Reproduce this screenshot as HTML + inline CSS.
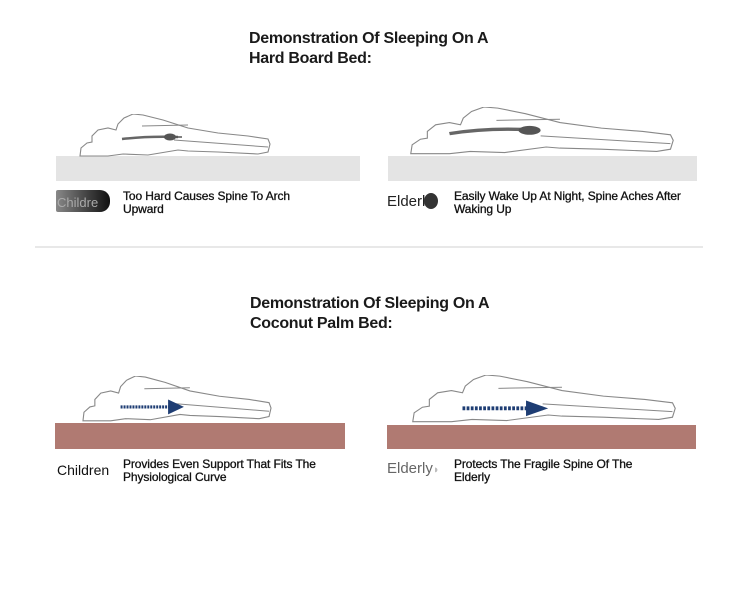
<!DOCTYPE html>
<html><head><meta charset="utf-8"><style>
body{margin:0;width:750px;height:604px;background:#fff;position:relative;overflow:hidden;font-family:"Liberation Sans",Arial,sans-serif;color:#111}
.t{position:absolute;font-size:16px;line-height:20px;font-weight:bold;letter-spacing:-0.3px;color:#1a1a1a}
.s{position:absolute;font-size:12px;line-height:13px;-webkit-text-stroke:0.3px #111;letter-spacing:-0.1px}
.bar{position:absolute}
</style></head><body>
<svg width="0" height="0" style="position:absolute">
<defs>
<g id="fig">
<path d="M2,42 L3,34 L9,29 L14,28 L14,22 L20,16 L30,14 L38,16 L40,10 L46,4 L55,0 L65,1 L85,6 L110,14 L140,19 L170,22 L190,25 L192,30 L190,38 L180,40 L140,38 L110,37 L100,36 L70,41 L45,40 L30,42 Z" fill="#fff" stroke="#888" stroke-width="1.1" vector-effect="non-scaling-stroke"/>
<path d="M64,12 L110,11 M96,26 L190,33" fill="none" stroke="#888" stroke-width="1" vector-effect="non-scaling-stroke"/>
</g>
</defs>
</svg>

<div class="t" style="left:249px;top:29px">Demonstration Of Sleeping On A<br>Hard Board Bed:</div>

<div class="bar" style="left:56px;top:156px;width:304px;height:25px;background:#e4e4e4"></div>
<div class="bar" style="left:388px;top:156px;width:309px;height:25px;background:#e4e4e4"></div>

<svg style="position:absolute;left:78px;top:114px" width="194" height="45" viewBox="0 0 194 45">
<use href="#fig"/>
<path d="M44,25 Q70,22 100,23" stroke="#666" stroke-width="2.5" fill="none"/>
<ellipse cx="92" cy="23" rx="6" ry="3.5" fill="#555"/>
<path d="M98,23 L104,23" stroke="#555" stroke-width="1.5"/>
</svg>
<svg style="position:absolute;left:408px;top:107px" width="268" height="50" viewBox="0 0 194 45" preserveAspectRatio="none">
<use href="#fig"/>
<path d="M30,24 Q60,18 95,21" stroke="#666" stroke-width="3" fill="none"/>
<ellipse cx="88" cy="21" rx="8" ry="4" fill="#555"/>
</svg>

<div style="position:absolute;left:56px;top:190px;width:54px;height:22px;background:linear-gradient(90deg,#888,#333 70%,#111);border-radius:2px 10px 10px 2px"></div>
<div style="position:absolute;left:57px;top:195px;font-size:13px;color:#aaa">Childre</div>
<div class="s" style="left:123px;top:190px">Too Hard Causes Spine To Arch<br>Upward</div>
<div style="position:absolute;left:387px;top:193px;font-size:15px;color:#222">Elderl<span style="display:inline-block;width:14px;height:16px;background:#333;border-radius:50%;vertical-align:-3px;margin-left:-1px"></span></div>
<div class="s" style="left:454px;top:190px">Easily Wake Up At Night, Spine Aches After<br>Waking Up</div>

<div style="position:absolute;left:35px;top:246px;width:668px;height:2px;background:#e8e8e8"></div>

<div class="t" style="left:250px;top:294px">Demonstration Of Sleeping On A<br>Coconut Palm Bed:</div>

<div class="bar" style="left:55px;top:423px;width:290px;height:26px;background:#b07a72"></div>
<div class="bar" style="left:387px;top:425px;width:309px;height:24px;background:#b07a72"></div>

<svg style="position:absolute;left:81px;top:376px" width="192" height="48" viewBox="0 0 194 45" preserveAspectRatio="none">
<use href="#fig"/>
<path d="M40,29 L100,29" stroke="#1e3d73" stroke-width="3" fill="none" stroke-dasharray="2 1"/>
<path d="M88,22 L104,29 L88,36 Z" fill="#1e3d73"/>
</svg>
<svg style="position:absolute;left:410px;top:375px" width="268" height="50" viewBox="0 0 194 45" preserveAspectRatio="none">
<use href="#fig"/>
<path d="M38,30 L96,30" stroke="#1e3d73" stroke-width="3.5" fill="none" stroke-dasharray="2 1"/>
<path d="M84,23 L100,30 L84,37 Z" fill="#1e3d73"/>
</svg>

<div style="position:absolute;left:57px;top:462px;font-size:14px;color:#111">Children</div>
<div class="s" style="left:123px;top:458px">Provides Even Support That Fits The<br>Physiological Curve</div>
<div style="position:absolute;left:387px;top:460px;font-size:15px;color:#666">Elderly<span style="color:#bbb;font-size:11px">◗</span></div>
<div class="s" style="left:454px;top:458px">Protects The Fragile Spine Of The<br>Elderly</div>
</body></html>
